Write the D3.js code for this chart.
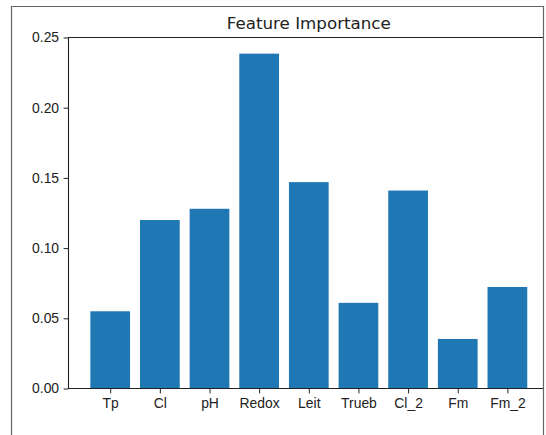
<!DOCTYPE html>
<html>
<head>
<meta charset="utf-8">
<script src="https://cdn.jsdelivr.net/npm/d3@7"></script>
<style>
  body { margin: 0; background: #fff; }
  svg { display: block; font-family: "DejaVu Sans", sans-serif; }
</style>
</head>
<body>
<svg id="chart" width="546" height="435"></svg>
<script>
// data
var features = ["Tp", "Cl", "pH", "Redox", "Leit", "Trueb", "Cl_2", "Fm", "Fm_2"];
var importance = [0.055, 0.120, 0.128, 0.2385, 0.147, 0.061, 0.141, 0.0353, 0.0723];
var yTicks = [0, 0.05, 0.10, 0.15, 0.20, 0.25];

var svg = d3.select("#chart");

// the figure is cut off on the right, so clip at the frame
svg.append("clipPath").attr("id", "cut")
   .append("rect").attr("x", 0).attr("y", 0).attr("width", 543).attr("height", 435);

var g = svg.append("g").attr("clip-path", "url(#cut)");

var x = d3.scaleLinear().domain([-0.84, 8.84]).range([68.5, 549.1]);
var y = d3.scaleLinear().domain([0, 0.25]).range([388.5, 37.5]);
var barW = x(0.8) - x(0);

// bars
g.selectAll(".bar")
 .data(importance)
 .enter()
 .append("rect")
 .attr("class", "bar")
 .attr("x", function(d, i){ return x(i) - barW / 2; })
 .attr("y", function(d){ return y(d); })
 .attr("width", barW)
 .attr("height", function(d){ return y(0) - y(d); })
 .attr("fill", "#1f77b4");

// y axis
var yAxis = d3.axisLeft(y)
              .tickValues(yTicks)
              .tickFormat(d3.format(".2f"))
              .tickSize(4.9)
              .tickPadding(4.5);
var ya = g.append("g").attr("transform", "translate(68.5,0)").call(yAxis);
ya.select(".domain").remove();
ya.selectAll("text").style("font-size", "13.9px").attr("fill", "#222");
ya.selectAll("line").attr("stroke", "#222");

// x axis
var xAxis = d3.axisBottom(x)
              .tickValues(d3.range(features.length))
              .tickFormat(function(i){ return features[i]; })
              .tickSize(4.9)
              .tickPadding(4.5);
var xa = g.append("g").attr("transform", "translate(0,388.5)").call(xAxis);
xa.select(".domain").remove();
xa.selectAll("text").style("font-size", "13.9px").attr("fill", "#222");
xa.selectAll("line").attr("stroke", "#222");

// spines
g.append("path")
 .attr("d", "M549.1,37.5H68.5V388.5H549.1")
 .attr("fill", "none")
 .attr("stroke", "#222")
 .attr("stroke-width", 1.1);

// title
g.append("text")
 .attr("x", (x.range()[0] + x.range()[1]) / 2)
 .attr("y", 29)
 .attr("text-anchor", "middle")
 .style("font-size", "16.7px")
 .attr("fill", "#222")
 .text("Feature Importance");

// outer frame of the screenshot
svg.append("path")
   .attr("d", "M11.5,435V6.5H543.5V435")
   .attr("fill", "none")
   .attr("stroke", "#666")
   .attr("stroke-width", 1.2);
</script>
</body>
</html>
